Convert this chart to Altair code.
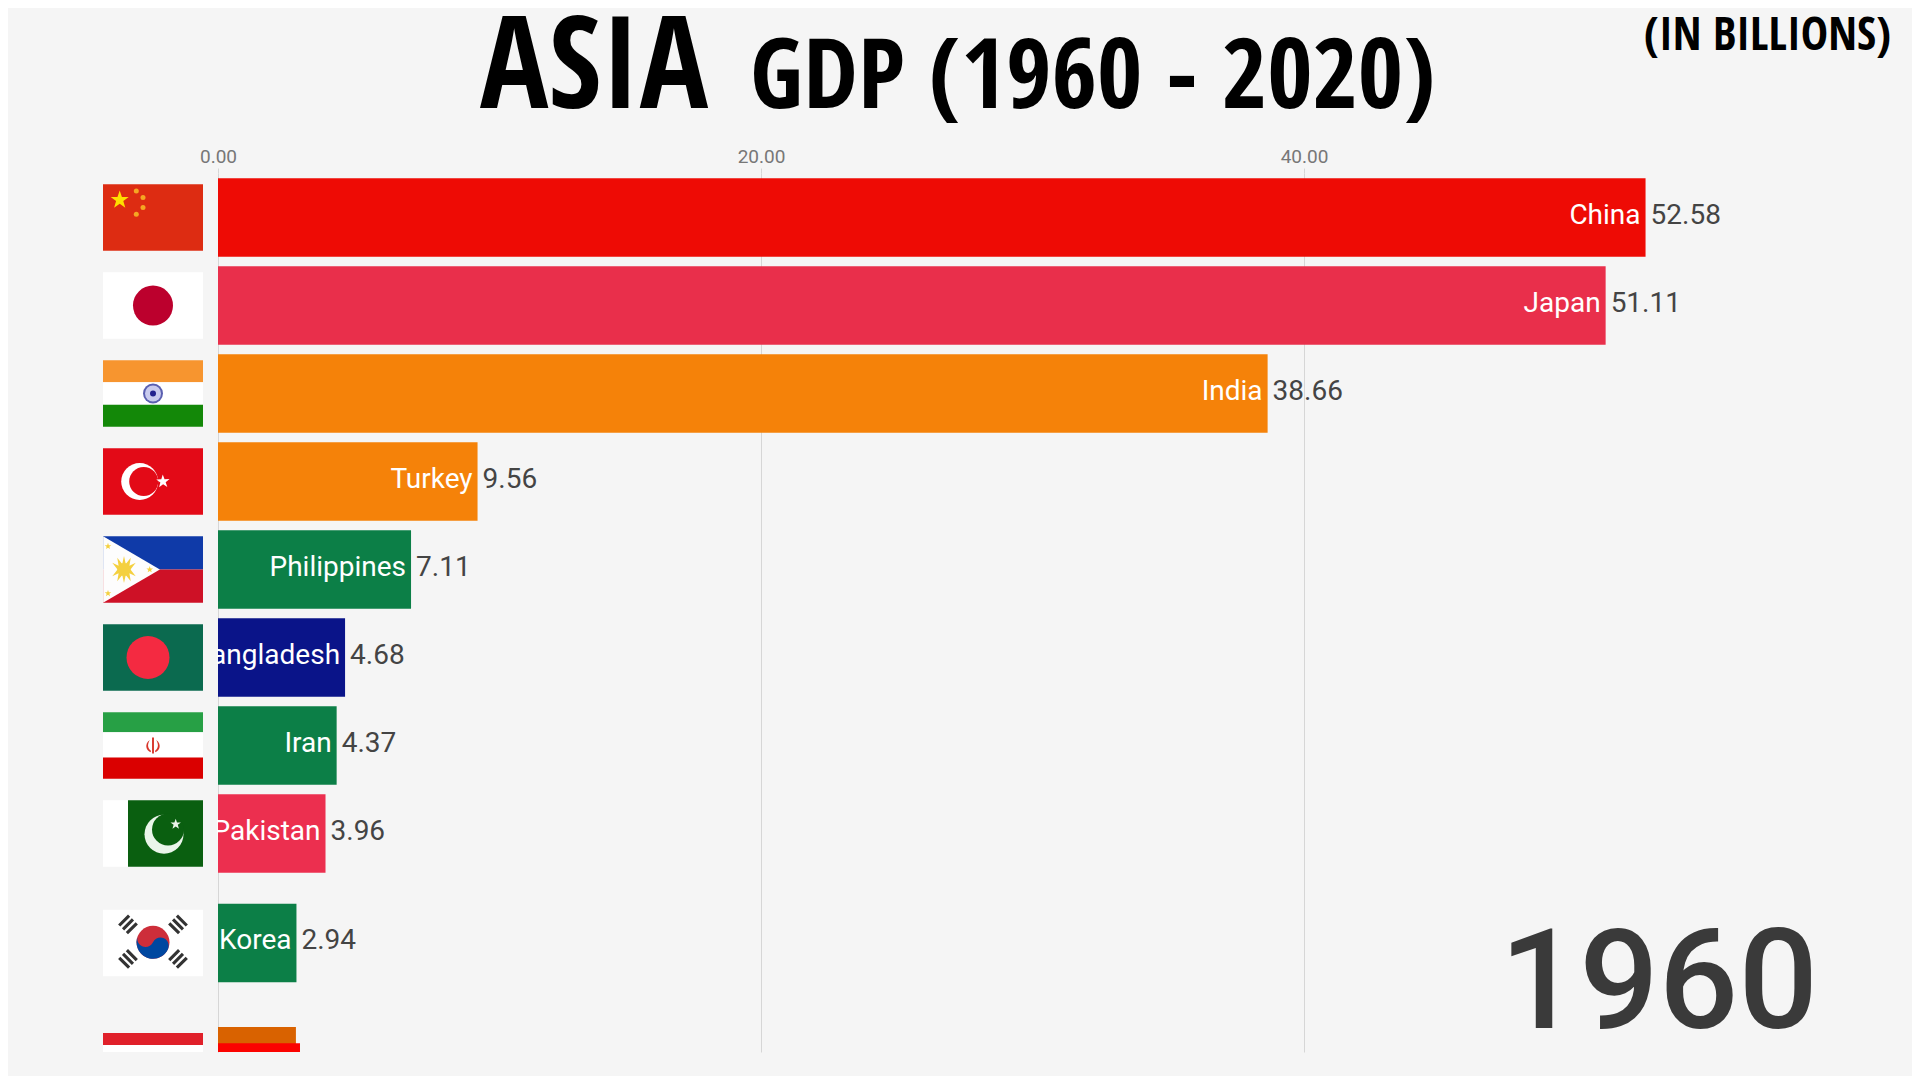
import altair as alt
import pandas as pd

# ---- chart values ----
countries = ["China", "Japan", "India", "Turkey", "Philippines", "Bangladesh", "Iran", "Pakistan", "Korea", "Indonesia", "Malaysia"]
bar_values = [52.58, 51.11, 38.66, 9.56, 7.11, 4.68, 4.37, 3.96, 2.89, 2.87, 3.02]
value_labels = ["52.58", "51.11", "38.66", "9.56", "7.11", "4.68", "4.37", "3.96", "2.94", "", ""]
name_labels = ["China", "Japan", "India", "Turkey", "Philippines", "Bangladesh", "Iran", "Pakistan", "Korea", "", ""]
ranks = [0, 1, 2, 3, 4, 5, 6, 7, 8.244, 9.645, 9.83]
bar_colors = ["#ee0b05", "#e92f4b", "#f58209", "#f58209", "#0c7f47", "#0a1489", "#0c7f47", "#ec2f4f", "#0c7f47", "#d96200", "#fb0300"]
ticks = [0, 20, 40]
title_big = "ASIA"
title_rest = "GDP (1960 - 2020)"
unit_note = "(IN BILLIONS)"
year_label = "1960"

BG = "#f5f5f5"
FONT = "Roboto"
TITLE_FONT = "'Open Sans Condensed', 'Roboto Condensed', Lato"
PX_PER_UNIT = 27.15
X_DOMAIN = [-210 / PX_PER_UNIT, 1694 / PX_PER_UNIT]
Y_DOMAIN = [-0.506, 9.483]
PLOT_W, PLOT_H = 1904, 879
BAR_HALF = 0.447
FLAG_X0, FLAG_W = -115 / PX_PER_UNIT, 100 / PX_PER_UNIT
FLAG_HALF = 33.2 / 88

# flag stripes: rank, fx0, fx1, fy0, fy1, colour (fractions of the flag)
flag_rects = [
    (0, 0, 1, 0, 1, "#dd2c12"),
    (1, 0, 1, 0, 1, "#ffffff"),
    (2, 0, 1, 0, .33, "#f7952f"), (2, 0, 1, .33, .67, "#ffffff"), (2, 0, 1, .67, 1, "#138808"),
    (3, 0, 1, 0, 1, "#e30a17"),
    (4, 0, 1, 0, .5, "#0f3aa8"), (4, 0, 1, .5, 1, "#ce1126"),
    (5, 0, 1, 0, 1, "#0b6a4f"),
    (6, 0, 1, 0, .30, "#27a045"), (6, 0, 1, .30, .68, "#ffffff"), (6, 0, 1, .68, 1, "#da0000"),
    (7, 0, .25, 0, 1, "#ffffff"), (7, .25, 1, 0, 1, "#0a5f10"),
    (8.244, 0, 1, 0, 1, "#ffffff"),
    (9.645, 0, 1, 0, .18, "#e0202a"), (9.645, 0, 1, .18, .32, "#ffffff"),
]

STAR = "M0,-1L.235,-.32L.95,-.31L.38,.12L.59,.81L0,.4L-.59,.81L-.38,.12L-.95,-.31L-.235,-.32Z"
SUN = ("M0,-1L.13,-.4L.5,-.87L.4,-.27L.87,-.5L.48,0L.87,.5L.4,.27L.5,.87L.13,.4L0,1"
       "L-.13,.4L-.5,.87L-.4,.27L-.87,.5L-.48,0L-.87,-.5L-.4,-.27L-.5,-.87L-.13,-.4Z")
TRI = "M-.855,-1L.855,0L-.855,1Z"
TRIGRAM = "M-1,-1H1V-.55H-1Z M-1,-.22H1V.22H-1Z M-1,.55H1V1H-1Z"
YIN = "M-1,0A.5,.5 0 0 0 0,0A.5,.5 0 0 1 1,0A1,1 0 0 1 -1,0Z"
EMBLEM = "M-.12,-1H.12V1H-.12Z M-.4,-.7C-1.1,-.2 -.9,.6 -.25,.85L-.3,.6C-.7,.3 -.7,-.2 -.4,-.7Z M.4,-.7C1.1,-.2 .9,.6 .25,.85L.3,.6C.7,.3 .7,-.2 .4,-.7Z"

# flag emblems: rank, fx, fy, diameter, colour, shape, angle
flag_glyphs = [
    (0, .167, .235, 19, "#ffde00", STAR, 0),
    (0, .333, .10, 5, "#f5a623", "circle", 0), (0, .40, .20, 5, "#f5a623", "circle", 0),
    (0, .40, .35, 5, "#f5a623", "circle", 0), (0, .333, .45, 5, "#f5a623", "circle", 0),
    (1, .5, .5, 40, "#bc002d", "circle", 0),
    (2, .5, .5, 20, "#5a5fb0", "circle", 0), (2, .5, .5, 16, "#c9cbee", "circle", 0), (2, .5, .5, 6, "#23238e", "circle", 0),
    (3, .367, .5, 37, "#ffffff", "circle", 0), (3, .407, .5, 29, "#e30a17", "circle", 0),
    (3, .60, .5, 14, "#ffffff", STAR, 70),
    (4, .285, .5, 66.4, "#fdfdfd", TRI, 0),
    (4, .21, .5, 27, "#f4d03f", SUN, 0), (4, .21, .5, 13, "#f4d03f", "circle", 0),
    (4, .05, .15, 7, "#f4d03f", STAR, 0), (4, .05, .86, 7, "#f4d03f", STAR, 0), (4, .467, .5, 7, "#f4d03f", STAR, 0),
    (5, .45, .5, 43, "#f42a41", "circle", 0),
    (6, .5, .5, 16, "#d8352a", EMBLEM, 0),
    (7, .61, .51, 39, "#eaf5ea", "circle", 0), (7, .65, .44, 32, "#0a5f10", "circle", 0),
    (7, .727, .36, 11, "#eaf5ea", STAR, 0),
    (8.244, .5, .49, 33, "#cd2e3a", "circle", 0), (8.244, .5, .49, 33, "#0047a0", YIN, 25),
    (8.244, .25, .22, 14, "#333333", TRIGRAM, 315), (8.244, .75, .22, 14, "#333333", TRIGRAM, 45),
    (8.244, .25, .74, 14, "#333333", TRIGRAM, 45), (8.244, .75, .74, 14, "#333333", TRIGRAM, 315),
]

bars = pd.DataFrame({"country": countries, "value": bar_values, "rank": ranks, "color": bar_colors,
                     "name": name_labels, "vlabel": value_labels})
rects = pd.DataFrame(flag_rects, columns=["rank", "fx0", "fx1", "fy0", "fy1", "color"])
rects["x0"] = FLAG_X0 + rects.fx0 * FLAG_W
rects["x1"] = FLAG_X0 + rects.fx1 * FLAG_W
rects["y0"] = rects["rank"] - FLAG_HALF + rects.fy0 * 2 * FLAG_HALF
rects["y1"] = rects["rank"] - FLAG_HALF + rects.fy1 * 2 * FLAG_HALF
glyphs = pd.DataFrame(flag_glyphs, columns=["rank", "fx", "fy", "d", "color", "shape", "angle"])
glyphs["x"] = FLAG_X0 + glyphs.fx * FLAG_W
glyphs["y"] = glyphs["rank"] - FLAG_HALF + glyphs.fy * 2 * FLAG_HALF
glyphs["size"] = glyphs.d ** 2

x_scale = alt.Scale(domain=X_DOMAIN, nice=False, zero=False)
y_scale = alt.Scale(domain=Y_DOMAIN, nice=False, zero=False, reverse=True)
no_color = alt.Color("color:N", scale=None, legend=None)

bar_layer = alt.Chart(bars).transform_calculate(
    y0=f"datum.rank-{BAR_HALF}", y1=f"datum.rank+{BAR_HALF}", zero="0"
).mark_rect(clip=True).encode(
    x=alt.X("zero:Q", scale=x_scale, title=None,
            axis=alt.Axis(orient="top", values=ticks, format=".2f", grid=True, gridColor="#d6d6d6", gridWidth=1,
                          domain=False, tickColor="#d6d6d6", tickSize=5, labelFont=FONT, labelFontSize=19,
                          labelColor="#777777", labelPadding=2, labelFlush=False)),
    x2="value:Q",
    y=alt.Y("y0:Q", scale=y_scale, axis=None),
    y2="y1:Q",
    color=no_color,
)

named = bars[bars.name != ""]
name_layer = alt.Chart(named).mark_text(align="right", baseline="middle", dx=-5, dy=-2, font=FONT,
                                        fontSize=28, color="#ffffff").encode(
    x=alt.X("value:Q", scale=x_scale), y=alt.Y("rank:Q", scale=y_scale), text="name:N")
value_layer = alt.Chart(named).mark_text(align="left", baseline="middle", dx=5, dy=-2, font=FONT,
                                         fontSize=28, color="#444444").encode(
    x=alt.X("value:Q", scale=x_scale), y=alt.Y("rank:Q", scale=y_scale), text="vlabel:N")

cover = alt.Chart(pd.DataFrame({"a": [X_DOMAIN[0]], "b": [-0.04]})).mark_rect(color=BG).encode(
    x=alt.X("a:Q", scale=x_scale), x2="b:Q", y=alt.value(0), y2=alt.value(PLOT_H))

flag_rect_layer = alt.Chart(rects).mark_rect(clip=True).encode(
    x=alt.X("x0:Q", scale=x_scale), x2="x1:Q",
    y=alt.Y("y0:Q", scale=y_scale), y2="y1:Q", color=no_color)
flag_glyph_layer = alt.Chart(glyphs).mark_point(filled=True, opacity=1, strokeWidth=0, clip=True).encode(
    x=alt.X("x:Q", scale=x_scale), y=alt.Y("y:Q", scale=y_scale),
    size=alt.Size("size:Q", scale=None, legend=None),
    shape=alt.Shape("shape:N", scale=None, legend=None),
    angle=alt.Angle("angle:Q", scale=None),
    color=no_color, order=alt.Order("idx:Q"),
).transform_window(idx="row_number()")


def text_mark(txt, px, py, size, font, color="#000000", weight="bold", align="left"):
    return alt.Chart(pd.DataFrame({"t": [txt]})).mark_text(
        align=align, baseline="alphabetic", font=font, fontSize=size, fontWeight=weight, color=color
    ).encode(x=alt.value(px), y=alt.value(py), text="t:N")


titles = [
    text_mark(title_big, 472, -65, 128, TITLE_FONT),
    text_mark(title_rest, 742, -65, 98, TITLE_FONT),
    text_mark(unit_note, 1636, -123, 46, TITLE_FONT),
    text_mark(year_label, 1810, 855, 140, FONT, color="#3a3a3a", weight=500, align="right"),
]

chart = alt.layer(bar_layer, name_layer, value_layer, cover, flag_rect_layer, flag_glyph_layer, *titles).properties(
    width=PLOT_W, height=PLOT_H, background=BG,
    padding={"left": 0, "right": 0, "top": 165, "bottom": 24},
    autosize=alt.AutoSizeParams(type="none"),
).configure_view(stroke=None)

chart.save("out.html", embed_options={"renderer": "svg", "actions": False})
